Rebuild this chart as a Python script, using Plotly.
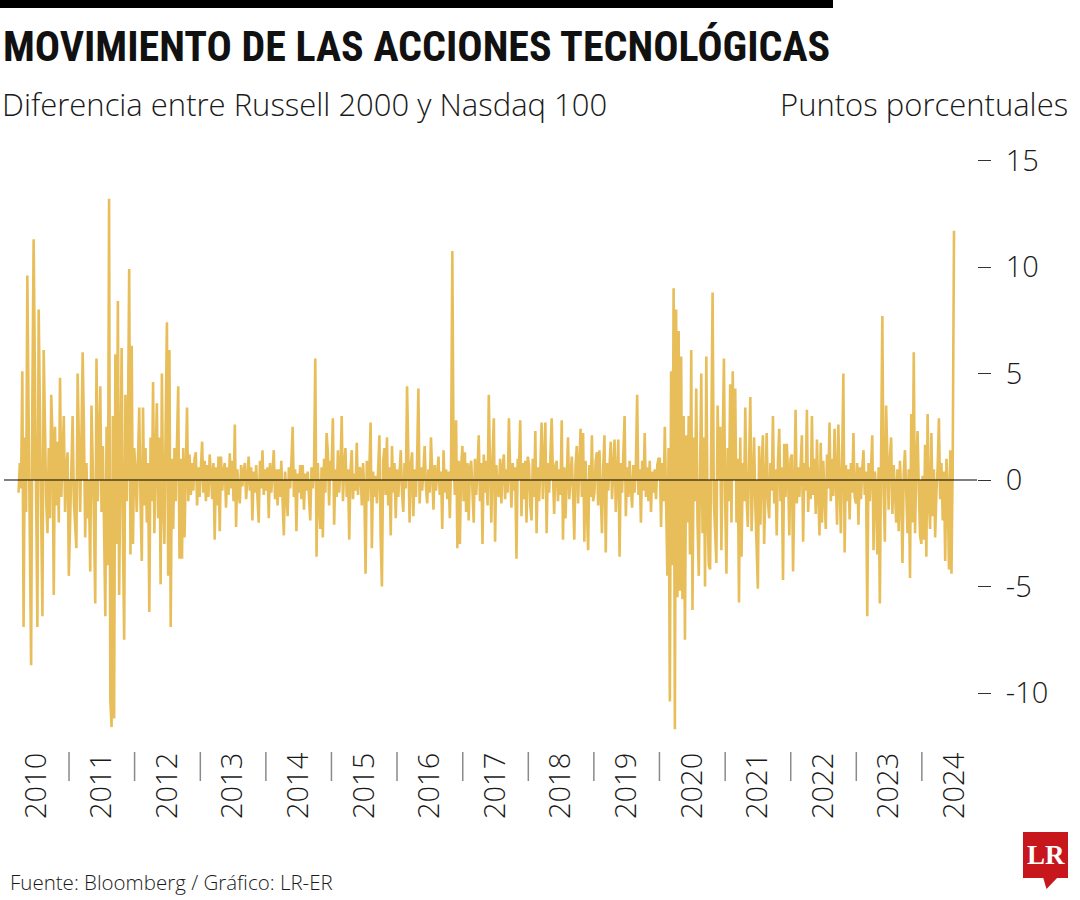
import pandas as pd
import plotly.graph_objects as go

# Weekly difference Russell 2000 - Nasdaq 100 (percentage points)
v2010 = [-0.6, 0.8, -0.4, 5.1, -6.9, 2.0, -1.5, 9.6, 3.0, -2.0, -8.7, 4.0, 11.3, 5.0, -3.0, -6.9, 8.0, 2.5, -4.0, -6.4,
         6.1, 1.5, -1.0, -2.5, 1.5, -1.8, 4.0, 2.0, -5.4, 2.5, -1.2, 1.8, -2.0, 4.8, -0.8, 1.0, 3.0, -1.5, 0.6, 1.3, -4.5]
v2011 = [-2.0, 1.5, 3.0, -1.0, -2.0, -3.2, 5.0, 1.0, -1.5, 2.0, 6.0, 2.5, -2.7, 0.8, -1.8, -0.5, -4.3, 3.5, 1.0, -2.0,
         -5.8, 5.7, -1.0, 2.0, 4.4, -1.5, 1.6, -2.2, -6.4, 2.5, -4.0, 13.2, -10.3, -11.6, 3.0, -11.2, 5.9, -3.0, 8.4, -5.4,
         2.0, 6.2, -2.5, -7.5, 4.0, -1.0, 2.5, 9.9, -3.5, 6.3, -3.0, 1.5]
v2012 = [0.5, -1.5, 1.0, 3.4, -1.0, -3.8, 3.4, -1.2, 1.5, -2.0, 0.8, -6.2, 2.0, -1.0, 4.6, -2.5, 1.0, 3.6, -1.8, 2.0,
         -4.9, 5.0, -1.0, -3.0, 2.5, 7.4, -4.5, 6.1, -6.9, 1.0, -2.3, 1.5, -1.0, 2.0, 4.4, -3.7, 1.0, -3.7, 1.5, -2.7,
         0.5, 3.4, -1.0, 1.2, -0.7, 0.8, -0.5, 1.0, 1.3, -1.2, 0.6, -0.8]
v2013 = [0.5, 1.8, -0.6, 0.9, -1.0, 0.7, -0.8, 1.2, 0.3, -0.9, 0.8, -2.8, 0.6, -1.2, 1.1, -2.4, 1.1, -0.5, 0.4, 0.8,
         -1.3, 0.6, -0.7, 1.25, -0.4, 0.9, -1.0, 2.6, -2.2, 0.5, -0.6, -1.1, 0.7, -0.3, 0.4, 0.8, -0.9, 0.3, 1.1, -0.5,
         0.6, -1.9, 0.4, -0.6, 0.7, -0.8, -2.0, 0.9, -0.4, 1.4, -0.7, 0.5]
v2014 = [-0.5, 0.6, -1.8, 0.8, -0.6, 0.4, 1.4, -0.9, 0.5, -1.2, 0.5, -0.8, 0.9, -1.0, -2.6, 0.4, -0.5, -1.7, 0.6, -0.4,
         0.8, 2.5, -0.8, 0.5, -2.4, 0.3, -0.6, 0.7, -0.9, 0.7, -1.4, 0.3, -0.5, 0.4, -0.8, -1.9, 0.6, -0.4, 0.5, 5.7,
         -3.6, 0.8, -1.0, -2.3, 0.6, -2.7, 1.0, -0.6, 2.2, 1.3, -1.2, 0.9]
v2015 = [0.6, 2.9, -2.1, 0.5, -0.8, 1.4, -0.6, 0.4, 3.0, -1.0, 0.6, 1.5, -0.8, 0.5, -2.8, 0.4, 1.4, -0.9, 0.3, -0.5,
         1.75, -0.7, 0.6, 0.5, -1.2, 0.8, -0.4, -4.4, 0.9, -1.0, 0.5, 2.7, -3.2, 0.4, -0.8, 0.2, -1.1, 0.7, 2.1, -2.7,
         -5.0, 0.9, 1.5, -0.7, 2.0, -1.2, 0.6, -2.6, 1.6, -0.6, 0.8, -1.8, 0.5]
v2016 = [-0.8, 0.5, 1.4, -0.6, -1.5, 0.8, -0.4, 4.4, 0.6, -2.0, 0.7, 1.3, -1.7, 0.5, -0.8, 1.0, 4.3, -1.1, 0.6, -0.5,
         0.4, 1.6, -0.3, -1.1, 0.5, -0.6, 2.0, 0.4, -1.4, 0.7, -0.5, 0.3, 1.1, -0.7, 0.4, -2.3, 1.4, -0.6, 0.5, -0.9,
         0.4, -1.8, 0.8, 10.75, 1.0, -0.7, 2.8, -3.2, 0.9, -3.0, 0.6, 1.6]
v2017 = [-1.0, 1.3, -1.5, 0.8, -1.9, 0.6, 0.9, -0.5, -2.0, 1.0, -0.7, 0.5, 2.1, -1.0, 0.8, -3.0, 1.2, -0.6, 0.9, -1.2,
         4.0, 0.5, -2.0, 1.1, 2.9, -2.9, 0.7, -0.4, -0.8, 1.0, -1.1, 0.6, 1.2, -0.9, 0.5, -0.6, 2.9, 0.4, -1.3, 0.8,
         -0.5, 0.6, -3.7, 1.0, 0.5, 2.8, -1.7, 0.8, -0.9, 0.9, -2.0, 1.1]
v2018 = [0.7, -1.2, -1.9, 1.0, -0.8, 2.3, -2.5, 0.6, -1.0, 0.5, 2.7, -0.9, 0.6, 2.7, -2.5, 0.8, -0.6, 1.2, 2.9, 0.3,
         -1.6, 0.7, 0.9, -1.0, 0.5, -0.7, 2.8, -2.8, 0.6, -1.8, 0.8, 2.0, -0.9, 0.4, 1.1, -0.6, -2.8, 0.7, 1.6, -1.1,
         0.5, 2.4, -0.8, 2.2, -2.9, 0.9, -1.2, -3.3, 0.7, -0.8, 2.1, -1.0]
v2019 = [-0.6, 0.9, 1.3, -1.2, 1.4, -0.7, -2.5, 0.6, 2.1, -3.4, 0.8, -0.5, 0.6, 1.8, -0.9, 0.4, 1.9, -1.5, 0.7, 1.9,
         -3.6, 0.8, -0.6, 1.0, 3.0, -1.7, 0.6, -0.8, 0.9, -0.4, -1.3, 0.7, -0.6, 0.8, 4.0, -0.7, 0.5, -2.0, 0.9, -0.5,
         2.2, -0.8, 0.6, -1.0, 0.9, -1.5, 0.4, -0.6, 0.5, -0.9, 0.7, 1.0]
v2020 = [1.0, -2.2, 0.8, -1.0, 2.5, -0.9, -4.5, 1.5, -10.4, 5.1, -4.0, 9.0, -11.7, 8.0, -5.5, 7.0, -5.2, 5.8, -5.6, 3.0,
         -7.5, 2.1, -2.0, 3.0, -3.5, 6.1, -6.1, 2.0, -1.0, 4.3, -2.0, -4.5, 1.5, 5.0, -2.5, 2.0, -5.0, 5.8, -1.5, -4.0,
         -4.2, 2.0, 8.8, -1.0, -2.5, -3.9, 3.5, 0.5, 2.5, -3.3, 1.5, 5.7, -1.0]
v2021 = [-4.4, 1.5, -1.0, 4.5, -2.0, 5.1, 0.5, 4.3, -2.0, 1.0, -5.75, 2.0, -3.6, 0.8, -1.0, 3.4, -0.8, -2.2, 1.2, 3.9,
         -2.4, 0.5, 2.0, -1.2, -3.1, -5.1, 1.6, -2.1, 0.6, 2.1, -3.0, 0.7, 2.2, -1.0, -1.8, 0.8, -0.5, 3.0, -1.1, 0.5,
         -2.6, 0.9, 2.4, -1.0, 0.6, -4.7, 1.7, -0.8, 1.7, 0.4, -2.6, 1.0]
v2022 = [1.2, -4.3, 0.8, 3.3, -1.1, 0.6, -0.8, 1.0, 2.1, -2.9, 0.8, -0.5, 3.3, -1.5, 0.6, -0.9, 3.0, -0.7, 1.0, -1.6,
         1.9, -0.6, -2.6, 1.75, -2.0, 0.9, -0.8, -2.3, 1.2, -0.4, 2.7, -1.0, 1.0, -0.75, 2.4, -0.5, -2.1, 2.6, 0.5, -2.5,
         0.9, 5.0, -3.4, 0.7, -1.0, 0.5, -1.85, 0.8, -0.6, 2.2, -0.8, -1.1]
v2023 = [0.8, -2.1, 0.6, -0.9, 0.5, 1.4, -0.7, 0.4, -6.4, 0.8, -1.0, 0.5, 2.1, -3.3, 0.4, -0.3, -3.5, 0.6, -5.8, 1.0,
         7.7, -0.5, -2.9, 3.5, 0.5, -1.4, 1.0, 2.0, -1.6, 0.7, -0.4, -2.0, 0.5, -2.4, 0.9, -0.6, -3.9, 0.3, 1.4, -0.8,
         -2.5, 0.5, -4.6, 3.1, -2.0, 6.0, -2.5, 0.6, 2.3, -0.4, -2.6, -3.0]
v2024 = [0.2, -2.8, 1.65, -3.6, 3.1, -1.0, -2.3, 2.2, -1.7, 0.5, -2.7, -0.6, 0.6, 2.9, -0.9, 0.8, -1.9, 0.4, -3.8, 1.0,
         -0.5, -4.2, 1.4, -4.4, 1.2, 11.7]

values = (v2010 + v2011 + v2012 + v2013 + v2014 + v2015 + v2016 + v2017 + v2018 + v2019
          + v2020 + v2021 + v2022 + v2023 + v2024)
first_week = "2010-03-26"
weeks = pd.date_range(first_week, periods=len(values), freq="7D")

years = list(range(2010, 2025))
year_labels = [str(y) for y in years]
year_label_pos = [f"{y}-07-02" for y in years]
year_separators = [f"{y}-01-01" for y in years[1:]]

y_tickvals = [-10, -5, 0, 5, 10, 15]
y_ticktext = ["-10", "-5", "0", "5", "10", "15"]

TITLE = "MOVIMIENTO DE LAS ACCIONES TECNOLÓGICAS"
SUBTITLE = "Diferencia entre Russell 2000 y Nasdaq 100"
UNITS = "Puntos porcentuales"
SOURCE = "Fuente: Bloomberg / Gráfico: LR-ER"

# ---- layout geometry (pixels) ----
W, H = 1080, 900
L, R, T, B = 4, 977, 150, 746


def px(x):
    return (x - L) / (R - L)


def py(y):
    return (B - y) / (B - T)


GOLD = "#E8BE5A"
INK = "#1a1a1a"
LIGHT = "Open Sans"

fig = go.Figure()
fig.add_trace(go.Scatter(
    x=weeks, y=values, mode="lines", fill="tozeroy",
    line=dict(color=GOLD, width=2.6), fillcolor=GOLD,
    hoverinfo="skip", showlegend=False,
))

shapes = [
    # top black rule
    dict(type="rect", xref="paper", yref="paper", x0=px(0), x1=px(833), y0=py(8), y1=py(0),
         fillcolor="#000000", line=dict(width=0)),
    # zero line over the area
    dict(type="line", xref="paper", yref="y", x0=0, x1=1, y0=0, y1=0,
         line=dict(color="#000000", width=1.2), layer="above"),
    # LR logo
    dict(type="rect", xref="paper", yref="paper", x0=px(1023), x1=px(1068), y0=py(878), y1=py(832),
         fillcolor="#C8161D", line=dict(width=0)),
    dict(type="path", xref="paper", yref="paper",
         path=f"M {px(1043)},{py(877)} L {px(1058)},{py(877)} L {px(1046.5)},{py(889)} Z",
         fillcolor="#C8161D", line=dict(width=0)),
]
for d in year_separators:
    shapes.append(dict(type="line", xref="x", yref="paper", x0=d, x1=d, y0=py(752), y1=py(781),
                       line=dict(color="#8a8a8a", width=1.5)))

annotations = [
    dict(text=TITLE, x=px(1), y=py(46), xref="paper", yref="paper", xanchor="left", yanchor="middle",
         showarrow=False,
         font=dict(family="Liberation Sans Narrow, Arial Narrow, Roboto Condensed, Liberation Sans",
                   size=42, color="#111111", weight="bold")),
    dict(text=SUBTITLE, x=px(0), y=py(104), xref="paper", yref="paper", xanchor="left", yanchor="middle",
         showarrow=False, font=dict(family=LIGHT, size=31, color=INK, weight=300)),
    dict(text=UNITS, x=px(1070), y=py(104), xref="paper", yref="paper", xanchor="right", yanchor="middle",
         showarrow=False, font=dict(family=LIGHT, size=31, color=INK, weight=300)),
    dict(text=SOURCE, x=px(8), y=py(882), xref="paper", yref="paper", xanchor="left", yanchor="middle",
         showarrow=False, font=dict(family=LIGHT, size=20.5, color=INK, weight=300)),
    dict(text="LR", x=px(1045.5), y=py(855), xref="paper", yref="paper", xanchor="center", yanchor="middle",
         showarrow=False, font=dict(family="Liberation Serif, DejaVu Serif", size=27, color="#ffffff",
                                    weight="bold")),
]

fig.update_layout(
    width=W, height=H,
    margin=dict(l=L, r=W - R, t=T, b=H - B, pad=0),
    paper_bgcolor="#ffffff", plot_bgcolor="#ffffff",
    showlegend=False,
    shapes=shapes,
    annotations=annotations,
    xaxis=dict(
        type="date", range=["2010-01-04", "2024-11-03"],
        tickmode="array", tickvals=year_label_pos, ticktext=year_labels,
        tickangle=-90, ticks="", showgrid=False, zeroline=False, showline=False,
        tickfont=dict(family=LIGHT, size=29, color=INK, weight=300),
    ),
    yaxis=dict(
        side="right", range=[-(B - 480) / 21.3, (480 - T) / 21.3],
        tickmode="array", tickvals=y_tickvals, ticktext=y_ticktext,
        ticks="outside", ticklen=13, tickwidth=1.2, tickcolor="#333333",
        showgrid=False, zeroline=False, showline=False,
        ticklabelstandoff=9,
        tickfont=dict(family=LIGHT, size=29, color=INK, weight=300),
    ),
)

fig.write_html("out.html", config={"displayModeBar": False},
               post_script="document.body.style.margin='0';")
